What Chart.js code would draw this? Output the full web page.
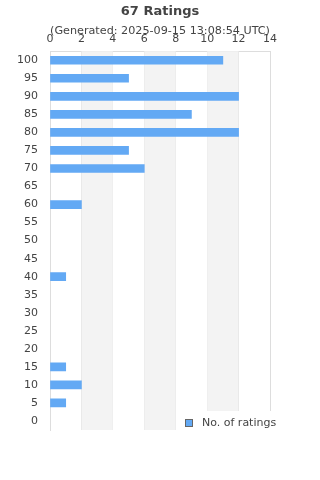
<!DOCTYPE html>
<html>
<head>
<meta charset="utf-8">
<script src="https://cdn.jsdelivr.net/npm/chart.js@4/dist/chart.umd.min.js"></script>
<style>
  html, body { margin: 0; padding: 0; background: #fff; }
  #wrap { width: 320px; height: 480px; }
</style>
</head>
<body>
<div id="wrap"><canvas id="ratingsChart" width="320" height="480"></canvas></div>
<script>
// ── Data ────────────────────────────────────────────
const ratingLabels = ['100', '95', '90', '85', '80', '75', '70', '65', '60', '55', '50',
    '45', '40', '35', '30', '25', '20', '15', '10', '5', '0'];
const ratingCounts = [11, 5, 12, 9, 12, 5, 6, 0, 2, 0, 0,
    0, 1, 0, 0, 0, 0, 1, 2, 1, 0];
const seriesLabel = 'No. of ratings';
const titleText = '67 Ratings';
const subtitleText = '(Generated: 2025-09-15 13:08:54 UTC)';

const BAR = '#63a9f4';
const TEXT = '#444';

Chart.defaults.font.family = "'DejaVu Sans', sans-serif";
Chart.defaults.color = TEXT;

// ── Alternating grey bands behind the bars ─────────────
const bandsPlugin = {
    id: 'bands',
    beforeDatasetsDraw(chart) {
        const { ctx, chartArea: a, scales: { x } } = chart;
        const ticks = x.ticks;
        ctx.save();
        ctx.fillStyle = '#f3f3f3';
        for (let i = 1; i < ticks.length - 1; i += 2) {
            const l = x.getPixelForValue(ticks[i].value);
            const r = x.getPixelForValue(ticks[i + 1].value);
            ctx.fillRect(l, a.top, r - l, a.bottom - a.top);
        }
        ctx.restore();
    }
};

// ── Legend sitting over the bottom-right of the plot ───
const insideLegend = {
    id: 'insideLegend',
    afterDraw(chart) {
        const { ctx, chartArea: a } = chart;
        const ds = chart.data.datasets[0];
        ctx.save();
        ctx.fillStyle = '#fff';
        ctx.fillRect(a.right - 92, a.bottom - 19, 120, 30);
        const bx = a.right - 85, by = a.bottom - 11;
        ctx.fillStyle = BAR;
        ctx.fillRect(bx, by, 7, 7);
        ctx.strokeStyle = '#666';
        ctx.lineWidth = 1;
        ctx.strokeRect(bx + 0.5, by + 0.5, 7, 7);
        ctx.fillStyle = TEXT;
        ctx.font = "11px 'DejaVu Sans', sans-serif";
        ctx.textBaseline = 'middle';
        ctx.fillText(ds.label, bx + 17, by + 4);
        ctx.restore();
    }
};

new Chart(document.getElementById('ratingsChart'), {
    type: 'bar',
    data: {
        labels: ratingLabels,
        datasets: [{
            label: seriesLabel,
            data: ratingCounts,
            backgroundColor: ctx => (ctx.raw ? BAR : 'rgba(0,0,0,0)'),
            borderWidth: 0,
            barThickness: 8
        }]
    },
    options: {
        indexAxis: 'y',
        responsive: false,
        animation: false,
        layout: { padding: { left: 7, right: 7, bottom: 50, top: 0 } },
        plugins: {
            legend: { display: false },
            tooltip: { enabled: false },
            title: {
                display: true,
                text: titleText,
                font: { size: 13, weight: 'bold' },
                color: TEXT,
                padding: { top: 4, bottom: 5 }
            },
            subtitle: {
                display: true,
                text: subtitleText,
                font: { size: 11.2 },
                color: TEXT,
                padding: { top: 0, bottom: -10 }
            }
        },
        scales: {
            x: {
                position: 'top',
                min: 0,
                max: 14,
                ticks: { stepSize: 2, font: { size: 11 }, color: TEXT, padding: 5 },
                grid: { color: '#dddddd', drawTicks: false },
                border: { color: '#dddddd' }
            },
            y: {
                afterFit: scale => { scale.width = 43; },
                ticks: { font: { size: 11 }, color: TEXT, padding: 12 },
                grid: { display: false, drawTicks: false },
                border: { color: '#dddddd' }
            },
            // empty spacer on the right so the titles centre over the plot
            ySpacer: {
                type: 'category',
                position: 'right',
                afterFit: scale => { scale.width = 43; },
                ticks: { display: false },
                grid: { display: false, drawTicks: false },
                border: { display: false }
            }
        }
    },
    plugins: [bandsPlugin, insideLegend]
});
</script>
</body>
</html>
